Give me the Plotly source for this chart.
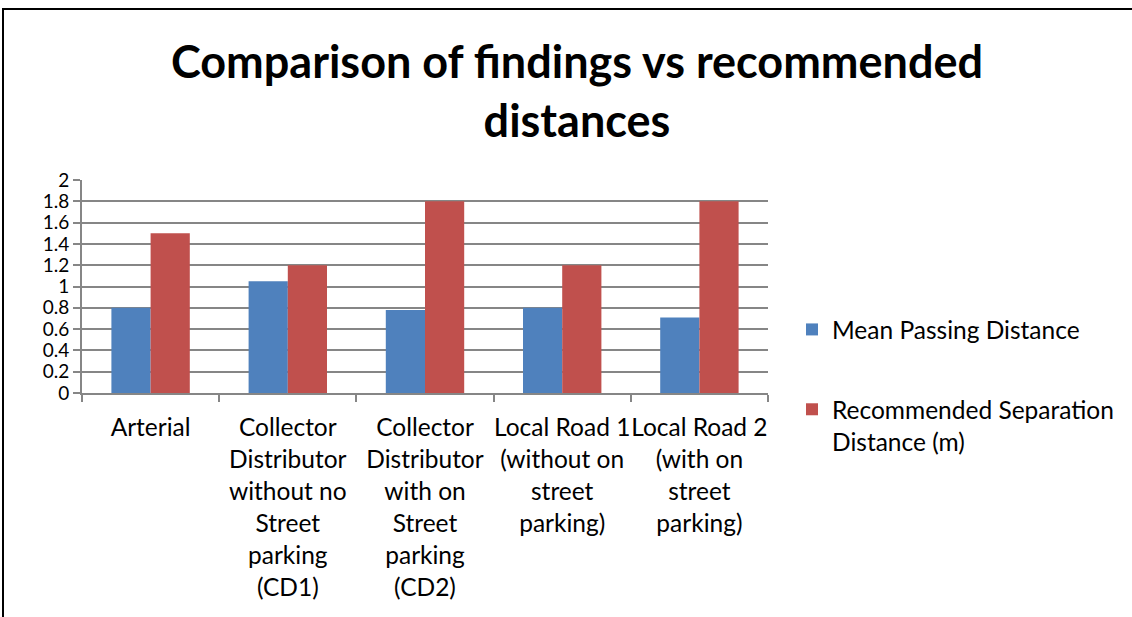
import plotly.graph_objects as go

categories = [
    "Arterial",
    "Collector<br>Distributor<br>without no<br>Street<br>parking<br>(CD1)",
    "Collector<br>Distributor<br>with on<br>Street<br>parking<br>(CD2)",
    "Local Road 1<br>(without on<br>street<br>parking)",
    "Local Road 2<br>(with on<br>street<br>parking)",
]
mean_passing = [0.8, 1.05, 0.78, 0.8, 0.71]
recommended = [1.5, 1.2, 1.8, 1.2, 1.8]
series_names = ["Mean Passing Distance", "Recommended Separation<br>Distance (m)"]
y_ticks = [0, 0.2, 0.4, 0.6, 0.8, 1, 1.2, 1.4, 1.6, 1.8, 2]
y_ticktext = ["0", "0.2", "0.4", "0.6", "0.8", "1", "1.2", "1.4", "1.6", "1.8", "2"]

FONT = "Lato"
W, H = 1132, 617
L, R, T, B = 82, 364, 180, 224
pw, ph = W - L - R, H - T - B


def px_x(p):
    return (p - L) / pw


def px_y(p):
    return (H - B - p) / ph


fig = go.Figure()
fig.add_trace(go.Bar(x=categories, y=mean_passing, name=series_names[0],
                     marker=dict(color="#4F81BD", line=dict(width=0)), legendgroup="a"))
fig.add_trace(go.Bar(x=categories, y=recommended, name=series_names[1],
                     marker=dict(color="#C0504D", line=dict(width=0)), legendgroup="b"))

# outer border (top and left edges visible)
fig.add_shape(type="rect", xref="paper", yref="paper",
              x0=px_x(3), x1=px_x(1160), y0=px_y(9), y1=px_y(660),
              line=dict(color="black", width=2), fillcolor="rgba(0,0,0,0)", layer="above")

fig.update_layout(
    width=W, height=H,
    margin=dict(l=L, r=R, t=T, b=B, autoexpand=False),
    paper_bgcolor="white", plot_bgcolor="white",
    barmode="group", bargap=0.4286, bargroupgap=0,
    font=dict(family=FONT, size=24.5, color="black"),
    title=dict(text="<b>Comparison of findings vs recommended<br>distances</b>",
               x=577 / W, xanchor="center", xref="container",
               y=1 - 78 / H, yanchor="middle", yref="container",
               font=dict(family=FONT, size=45, color="black")),
    legend=dict(x=px_x(792), xanchor="left", y=px_y(307), yanchor="top",
                font=dict(family=FONT, size=24.5), tracegroupgap=45,
                valign="top", bgcolor="rgba(0,0,0,0)", itemwidth=30),
    xaxis=dict(type="category", showline=True, linecolor="#868686", linewidth=2,
               ticks="outside", tickson="boundaries", ticklen=7, tickcolor="#868686",
               tickwidth=2, showgrid=False, tickangle=0, ticklabelstandoff=12,
               tickfont=dict(family=FONT, size=24.5)),
    yaxis=dict(range=[0, 2], tickvals=y_ticks, ticktext=y_ticktext,
               showline=True, linecolor="#868686", linewidth=2,
               ticks="outside", ticklen=7, tickcolor="#868686", tickwidth=2,
               showgrid=True, gridcolor="#868686", gridwidth=2, zeroline=False,
               tickfont=dict(family=FONT, size=19)),
)

fig.write_html("out.html", config={"displayModeBar": False},
               post_script="document.body.style.margin='0';document.body.style.padding='0';")
